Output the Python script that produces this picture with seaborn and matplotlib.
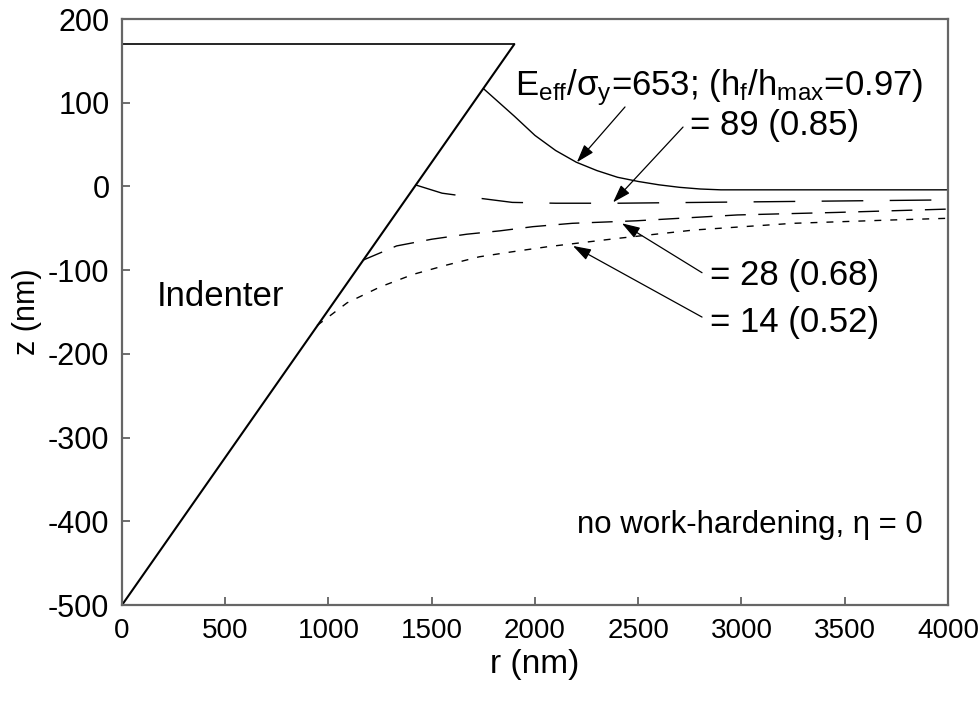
import matplotlib
matplotlib.use("Agg")
import matplotlib.pyplot as plt
import seaborn as sns
import pandas as pd

# ---- data ----
ind_r = [0, 1900]
ind_z = [-500, 170]
top_r = [0, 1900]
top_z = [170, 170]

r653 = [1750, 1800, 1850, 1900, 2000, 2100, 2200, 2300, 2400, 2500, 2600, 2700, 2800, 2900, 4000]
z653 = [117, 106, 95, 84, 61, 43, 29, 19, 11, 6, 2, -1, -3, -4, -4]

r89 = [1420, 1550, 1730, 1890, 2100, 2400, 2800, 3200, 3600, 4000]
z89 = [2, -8, -14, -19, -20, -20, -19, -18, -17, -16]

r28 = [1167, 1330, 1500, 1670, 1830, 1990, 2180, 2490, 2980, 3460, 4000]
z28 = [-88, -71, -63, -57, -53, -48, -44, -41, -34, -31, -27]

r14 = [945, 1090, 1250, 1410, 1570, 1730, 1890, 2060, 2400, 2770, 3250, 3730, 4000]
z14 = [-166, -139, -120, -105, -94, -84, -78, -72, -62, -52, -44, -40, -38]

xticks = [0, 500, 1000, 1500, 2000, 2500, 3000, 3500, 4000]
yticks = [-500, -400, -300, -200, -100, 0, 100, 200]

sns.set_theme(style="white")
plt.rcParams["font.family"] = ["Liberation Sans", "DejaVu Sans"]
plt.rcParams["mathtext.default"] = "regular"
plt.rcParams["text.color"] = "black"
plt.rcParams["axes.labelcolor"] = "black"

fig = plt.figure(figsize=(9.79, 7.06), dpi=100)
ax = fig.add_axes([0.1246, 0.143, 0.8437, 0.830])

lw = 1.0
sns.lineplot(x=ind_r, y=ind_z, ax=ax, color="black", lw=1.5, sort=False)
sns.lineplot(x=top_r, y=top_z, ax=ax, color="black", lw=1.2, sort=False)
sns.lineplot(x=r653, y=z653, ax=ax, color="black", lw=lw, sort=False)
l89 = sns.lineplot(x=r89, y=z89, ax=ax, color="black", lw=lw, sort=False).lines[-1]
l89.set_dashes((30, 19))
l28 = sns.lineplot(x=r28, y=z28, ax=ax, color="black", lw=lw, sort=False).lines[-1]
l28.set_dashes((15, 9))
l14 = sns.lineplot(x=r14, y=z14, ax=ax, color="black", lw=lw, sort=False).lines[-1]
l14.set_dashes((5, 6.5))

ax.set_xlim(0, 4000)
ax.set_ylim(-500, 200)
ax.set_xticks(xticks)
ax.set_yticks(yticks)
ax.set_xticklabels([str(v) for v in xticks])
ax.set_yticklabels([str(v) for v in yticks])
ax.tick_params(axis="both", direction="in", length=6, width=1.2, color="#555555",
               labelcolor="black", bottom=True, left=True,
               top=False, right=False, pad=9)
ax.tick_params(axis="x", labelsize=20)
ax.tick_params(axis="y", labelsize=22)
for s in ax.spines.values():
    s.set_color("#666666")
    s.set_linewidth(1.6)

ax.set_xlabel("r (nm)", fontsize=24, labelpad=4)
ax.set_ylabel("z (nm)", fontsize=22, labelpad=4)

fs = 25
ax.text(1903, 109, "E$_{eff}$/σ$_{y}$=653; (h$_{f}$/h$_{max}$=0.97)", fontsize=fs, ha="left", va="baseline")
ax.text(2750, 61, "= 89 (0.85)", fontsize=fs, ha="left", va="baseline")
ax.text(2847, -118, "= 28 (0.68)", fontsize=fs, ha="left", va="baseline")
ax.text(2847, -174, "= 14 (0.52)", fontsize=fs, ha="left", va="baseline")
ax.text(170, -143, "Indenter", fontsize=fs, ha="left", va="baseline")
ax.text(3880, -414, "no work-hardening, η = 0", fontsize=22.5, ha="right", va="baseline")

ap = dict(arrowstyle="-|>,head_length=0.55,head_width=0.18", color="black", lw=0.9,
          mutation_scale=20, shrinkA=0, shrinkB=0)
ax.annotate("", xy=(2203, 29), xytext=(2436, 95), arrowprops=ap)
ax.annotate("", xy=(2378, -19), xytext=(2717, 71), arrowprops=ap)
ax.annotate("", xy=(2421, -44), xytext=(2809, -103), arrowprops=ap)
ax.annotate("", xy=(2184, -71), xytext=(2809, -156), arrowprops=ap)

fig.savefig("out.png", dpi=100)
